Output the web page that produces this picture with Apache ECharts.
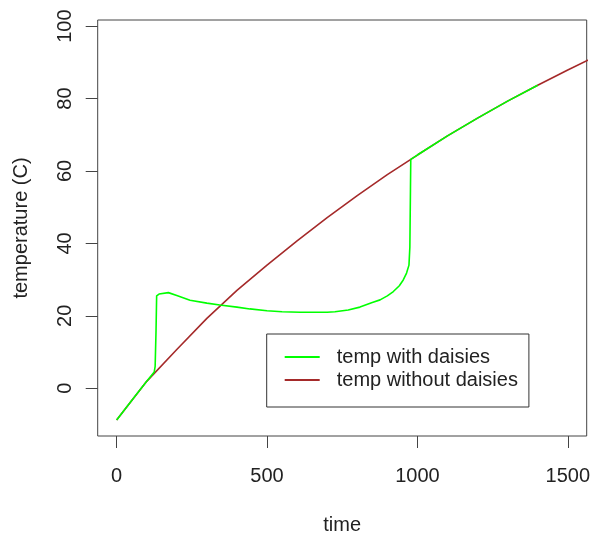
<!DOCTYPE html>
<html><head><meta charset="utf-8">
<script src="https://cdn.jsdelivr.net/npm/echarts@6/dist/echarts.min.js"></script>
<style>html,body{margin:0;padding:0;background:#fff}#c{width:592px;height:535px}</style>
</head><body><div id="c"></div>
<script>
// time / temperature without daisies
var timeNoDaisies = [0,100,200,300,400,500,600,700,800,900,1000,1100,1200,1300,1400,1500,1600];
var tempNoDaisies = [-8.8,1.9,10.7,19.3,27.0,34.0,40.7,47.1,53.2,59.0,64.4,69.7,74.6,79.3,83.7,87.9,91.9];
// time / temperature with daisies
var timeDaisies = [0,50,100,125,128,131,133,141,172,200,244,300,343,400,443,500,550,610,700,726,770,809,850,876,900,920,940,953,964,972,975,977,978,1000,1100,1200,1300,1400];
var tempDaisies = [-8.8,-3.4,1.9,4.5,6,16,25.5,26.0,26.4,25.6,24.3,23.5,23.0,22.4,21.9,21.4,21.1,21.0,21.0,21.1,21.6,22.4,23.7,24.4,25.5,26.7,28.3,29.9,31.8,34,39,55,63.2,64.4,69.7,74.6,79.3,83.7];
var xTicks = [0,500,1000,1500];
var yTicks = [0,20,40,60,80,100];
var seriesNames = ['temp with daisies','temp without daisies'];

function pairs(xs, ys){ return xs.map(function(x,i){ return [x, ys[i]]; }); }

var font = 'Arial, "Liberation Sans", sans-serif';
var txt = '#222';
var chart = echarts.init(document.getElementById('c'), null, {renderer:'canvas'});
chart.setOption({
  animation:false,
  backgroundColor:'#fff',
  grid:{left:97.7, right:5.3, top:20, bottom:99, show:true, borderColor:'#444', borderWidth:1,
    backgroundColor:'transparent', containLabel:false, outerBoundsMode:'none'},
  xAxis:{type:'value', min:-63, max:1563, name:'time', nameLocation:'middle', nameGap:79,
    nameTextStyle:{fontFamily:font, fontSize:20, color:txt},
    axisLine:{show:false, onZero:false}, splitLine:{show:false},
    axisTick:{show:true, inside:false, length:12, customValues:xTicks, lineStyle:{color:'#444'}},
    axisLabel:{customValues:xTicks, margin:30, fontFamily:font, fontSize:20, color:txt, hideOverlap:false,
      formatter:function(v){ return String(v); }}},
  yAxis:{type:'value', min:-13.2, max:101.7, name:'temperature (C)', nameLocation:'middle', nameGap:66,
    nameTextStyle:{fontFamily:font, fontSize:20, color:txt},
    axisLine:{show:false, onZero:false}, splitLine:{show:false},
    axisTick:{show:true, inside:false, length:12, customValues:yTicks, lineStyle:{color:'#444'}},
    axisLabel:{customValues:yTicks, rotate:90, margin:22, fontFamily:font, fontSize:20, color:txt, hideOverlap:false,
      formatter:function(v){ return String(v); }}},
  legend:{data:seriesNames, orient:'vertical', left:266.7, top:334, borderColor:'#333', borderWidth:1,
    padding:[13,11,17,17], itemGap:3, itemWidth:35, itemHeight:2,
    itemStyle:{borderWidth:0},
    textStyle:{fontFamily:font, fontSize:20, color:txt, padding:[0,0,0,12]}},
  series:[
    {name:seriesNames[1], type:'line', data:pairs(timeNoDaisies,tempNoDaisies), symbol:'none', color:'#a52a2a', lineStyle:{width:1.6, color:'#a52a2a'}, z:2},
    {name:seriesNames[0], type:'line', data:pairs(timeDaisies,tempDaisies), symbol:'none', color:'#00ff00', lineStyle:{width:1.6, color:'#00ff00'}, z:3}
  ]
});
</script></body></html>
